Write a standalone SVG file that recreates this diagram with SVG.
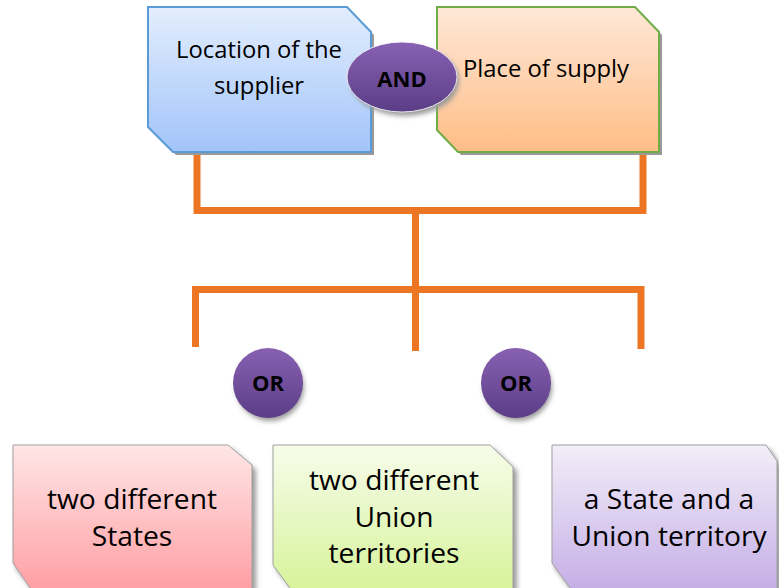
<svg xmlns="http://www.w3.org/2000/svg" width="779" height="588" viewBox="0 0 779 588">
<style>
.t{font-family:"Open Sans","Liberation Sans",sans-serif;fill:#000;text-anchor:middle}
.top{font-size:23.8px}
.bot{font-size:28.2px}
.op{font-family:"Open Sans","Liberation Sans",sans-serif;font-weight:bold;fill:#000;text-anchor:middle;font-size:22px}
.con{stroke:#ED7625;stroke-width:7;fill:none;stroke-linecap:butt}
.sh{fill:#9a9a9a}
</style>
<defs>
<linearGradient id="gBlue" x1="0" y1="0" x2="0" y2="1"><stop offset="0" stop-color="#E3EEFD"/><stop offset="1" stop-color="#A2C4FA"/></linearGradient>
<linearGradient id="gOrange" x1="0" y1="0" x2="0" y2="1"><stop offset="0" stop-color="#FFE8D8"/><stop offset="1" stop-color="#FFBD86"/></linearGradient>
<linearGradient id="gPink" x1="0" y1="0" x2="0" y2="1"><stop offset="0" stop-color="#FFE6E6"/><stop offset="1" stop-color="#FF9EA3"/></linearGradient>
<linearGradient id="gGreen" x1="0" y1="0" x2="0" y2="1"><stop offset="0" stop-color="#F7FCEA"/><stop offset="1" stop-color="#D6F39A"/></linearGradient>
<linearGradient id="gPurple" x1="0" y1="0" x2="0" y2="1"><stop offset="0" stop-color="#F3EEF8"/><stop offset="1" stop-color="#C4AEE6"/></linearGradient>
<linearGradient id="gOp" x1="0" y1="0" x2="0" y2="1"><stop offset="0" stop-color="#8861B3"/><stop offset="1" stop-color="#5B3D86"/></linearGradient>
<filter id="blur" x="-10%" y="-10%" width="130%" height="130%"><feGaussianBlur stdDeviation="2.5"/></filter>
</defs>

<g id="connectors">
<polyline class="con" points="197,152 197,210.5 643,210.5 643,153"/>
<line class="con" x1="415.5" y1="210" x2="415.5" y2="351"/>
<polyline class="con" points="195.5,347 195.5,289.5 641,289.5 641,349"/>
</g>

<g id="node-location">
<polygon class="sh" points="151,10 350,10 374,35 374,155 176,155 151,130"/>
<polygon points="148,7 347,7 371,32 371,152 173,152 148,127" fill="url(#gBlue)" stroke="#5B9BD5" stroke-width="2"/>
<text class="t top" x="259" y="58">Location of the</text>
<text class="t top" x="259" y="94">supplier</text>
</g>

<g id="node-place">
<polygon class="sh" points="440,10 638,10 662,35 662,155 461,155 440,133"/>
<polygon points="437,7 635,7 659,32 659,152 458,152 437,130" fill="url(#gOrange)" stroke="#70AD47" stroke-width="2"/>
<text class="t top" x="546" y="77">Place of supply</text>
</g>

<g id="node-and">
<ellipse cx="405" cy="81" rx="54" ry="35" class="sh" filter="url(#blur)"/>
<ellipse cx="402" cy="77" rx="55" ry="35" fill="url(#gOp)" stroke="#fff" stroke-width="0.8"/>
<text class="op" x="402" y="87">AND</text>
</g>

<g id="node-or1">
<circle cx="270" cy="387" r="34" class="sh" filter="url(#blur)"/>
<circle cx="268" cy="383" r="35" fill="url(#gOp)"/>
<text class="op" x="268" y="391">OR</text>
</g>

<g id="node-or2">
<circle cx="518" cy="387" r="34" class="sh" filter="url(#blur)"/>
<circle cx="516" cy="383" r="35" fill="url(#gOp)"/>
<text class="op" x="516" y="391">OR</text>
</g>

<g id="node-states">
<polygon class="sh" filter="url(#blur)" points="16,449 232,449 256,470 256,596 37,596 16,568"/>
<polygon points="13,445 228,445 252,465 252,592 33,592 13,563" fill="url(#gPink)" stroke="#a0a0a0" stroke-width="1"/>
<text class="t bot" x="132" y="509">two different</text>
<text class="t bot" x="132" y="546">States</text>
</g>

<g id="node-uts">
<polygon class="sh" filter="url(#blur)" points="276,449 494,449 517,471 517,596 297,596 276,569"/>
<polygon points="273,445 490,445 513,467 513,592 293,592 273,565" fill="url(#gGreen)" stroke="#a0a0a0" stroke-width="1"/>
<text class="t bot" x="394" y="490">two different</text>
<text class="t bot" x="394" y="527">Union</text>
<text class="t bot" x="394" y="563">territories</text>
</g>

<g id="node-state-ut">
<polygon class="sh" filter="url(#blur)" points="555,449 770,449 781,466 781,596 576,596 555,568"/>
<polygon points="552,445 766,445 777,461 777,592 573,592 552,563" fill="url(#gPurple)" stroke="#a0a0a0" stroke-width="1"/>
<text class="t bot" x="669" y="509">a State and a</text>
<text class="t bot" x="669" y="546">Union territory</text>
</g>
</svg>
